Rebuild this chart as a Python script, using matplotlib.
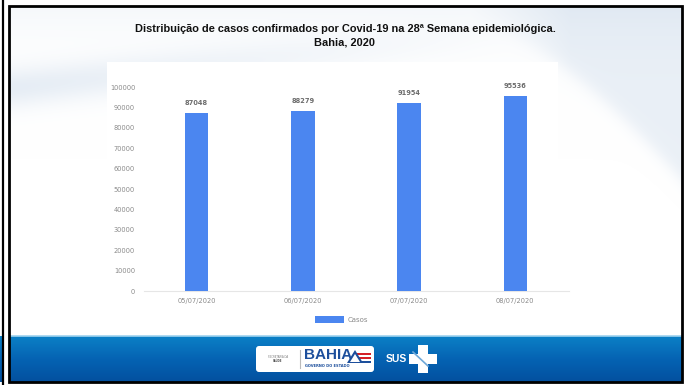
import numpy as np
import matplotlib.pyplot as plt
from matplotlib.colors import LinearSegmentedColormap
from matplotlib.patches import Rectangle, FancyBboxPatch, Polygon

# weekly confirmed cases
datas = ["05/07/2020", "06/07/2020", "07/07/2020", "08/07/2020"]
casos = [87048, 88279, 91954, 95536]
y_ticks = [0, 10000, 20000, 30000, 40000, 50000, 60000, 70000, 80000, 90000, 100000]

titulo = ("Distribuição de casos confirmados por Covid-19 na 28ª Semana epidemiológica.\n"
          "Bahia, 2020")

W, H = 689, 385
fig = plt.figure(figsize=(W / 100, H / 100), dpi=100)
fig.patch.set_facecolor("white")

# background layer in pixel coordinates
bg = fig.add_axes([0, 0, 1, 1])
bg.set_xlim(0, W)
bg.set_ylim(H, 0)
bg.axis("off")

# soft swooshes behind the chart
px, py = np.meshgrid(np.arange(10, 682), np.arange(7, 336))
wave_c = 88 - 0.11 * (px - 10)
wave = 0.75 * np.exp(-((py - wave_c) / 20.0) ** 2) * np.clip(1 - (px - 10) / 500, 0, 1)
edge = 20 + 160 * np.clip((px - 470) / 212, 0, None) ** 1.5
right = 0.65 * (px > 470) / (1 + np.exp((py - edge) / 6)) * np.clip((px - 470) / 100, 0, 1)
top = 0.3 * np.exp(-(py - 7) / 35.0)
field = np.clip(wave + right + top, 0, 1)
swoosh = LinearSegmentedColormap.from_list("swoosh", ["#ffffff", "#dfe8f2"])
bg.imshow(field, extent=(10, 682, 336, 7), cmap=swoosh, vmin=0, vmax=1,
          aspect="auto", zorder=0, interpolation="bilinear")
bg.add_patch(Rectangle((107, 62), 451, 272, fc="white", ec="none", zorder=1))

# blue footer band with gradient
grad = np.linspace(0, 1, 50).reshape(-1, 1)
band = LinearSegmentedColormap.from_list("band", ["#0b80c6", "#0563b3", "#03509f"])
bg.imshow(grad, extent=(10, 682, 382, 336), cmap=band, aspect="auto", zorder=2)
bg.imshow(grad, extent=(0, 3, 382, 336), cmap=band, aspect="auto", zorder=2)
bg.plot([10, 682], [336, 336], color="#9fd3ef", lw=1.2, zorder=3)

# frames
bg.add_patch(Rectangle((9, 6), 673, 376, fc="none", ec="black", lw=2, zorder=5))
bg.plot([2.5, 2.5], [0, 385], color="black", lw=1.6, zorder=5)

# logos
bg.add_patch(FancyBboxPatch((256, 346), 118, 26, boxstyle="round,pad=0,rounding_size=3",
                            fc="white", ec="none", zorder=4))
bg.text(278, 357, "SECRETARIA DA", fontsize=1.8, color="#777777", ha="center", va="center", zorder=6)
bg.text(278, 360.5, "SAÚDE", fontsize=1.8, color="#555555", ha="center", va="center",
        fontweight="bold", zorder=6)
bg.plot([300, 300], [350, 368], color="#bbbbbb", lw=0.8, zorder=6)
bg.text(304, 362, "BAHIA", fontsize=11, color="#1d4f9c", fontweight="bold",
        ha="left", va="bottom", family="Liberation Sans", zorder=6)
bg.text(305, 366, "GOVERNO DO ESTADO", fontsize=2.6, color="#1d4f9c", fontweight="bold",
        ha="left", va="center", zorder=6)
for i, c in enumerate(["#d42027", "white", "#d42027", "white", "#1d4f9c"]):
    bg.add_patch(Rectangle((353, 353 + i * 2), 18, 2, fc=c, ec="none", zorder=6))
bg.add_patch(Polygon([[347, 363], [355, 350], [363, 363]], closed=True, fc="#1d4f9c", ec="none", zorder=7))
bg.add_patch(Polygon([[350, 362], [355, 354], [360, 362]], closed=True, fc="white", ec="none", zorder=7))
bg.text(386, 359, "SUS", fontsize=7.5, color="white", fontweight="bold", ha="left", va="center",
        family="Liberation Sans", zorder=6)
bg.add_patch(Rectangle((418, 345), 10, 28, fc="white", ec="none", zorder=6))
bg.add_patch(Rectangle((409, 354), 28, 10, fc="white", ec="none", zorder=6))
bg.plot([413, 428], [352, 366], color="#6fa8d8", lw=1.2, zorder=7)

# title
fig.text(345 / W, 1 - 36 / H, titulo, ha="center", va="center", fontsize=7.9,
         fontweight="bold", family=["Liberation Sans", "DejaVu Sans"],
         linespacing=1.45, color="#111111")

# chart
ax = fig.add_axes([143.5 / W, 1 - 291 / H, 425 / W, 204 / H])
ax.patch.set_alpha(0)
x = np.arange(len(datas))
ax.bar(x, casos, width=0.22, color="#4b86f0", zorder=3, label="Casos")
for xi, v in zip(x, casos):
    ax.text(xi, v + 3500, str(v), ha="center", va="bottom", fontsize=4.8,
            color="#6d6d6d", fontweight="bold")
ax.set_xlim(-0.5, 3.5)
ax.set_ylim(0, 100000)
ax.set_yticks(y_ticks)
ax.set_yticklabels([str(v) for v in y_ticks])
ax.set_xticks(x)
ax.set_xticklabels(datas)
ax.tick_params(axis="both", length=0, labelsize=4.8, labelcolor="#8a8a8a")
ax.tick_params(axis="y", pad=6)
ax.tick_params(axis="x", pad=5)
for s in ["top", "right", "left"]:
    ax.spines[s].set_visible(False)
ax.spines["bottom"].set_color("#e6e6e6")
ax.spines["bottom"].set_linewidth(0.8)

leg = ax.legend(loc="upper center", bbox_to_anchor=(0.465, -0.09), frameon=False,
                fontsize=5, handlelength=4.2, handleheight=1.2, handletextpad=0.5)
for txt in leg.get_texts():
    txt.set_color("#8a8a8a")

fig.savefig("out.png", dpi=100)
